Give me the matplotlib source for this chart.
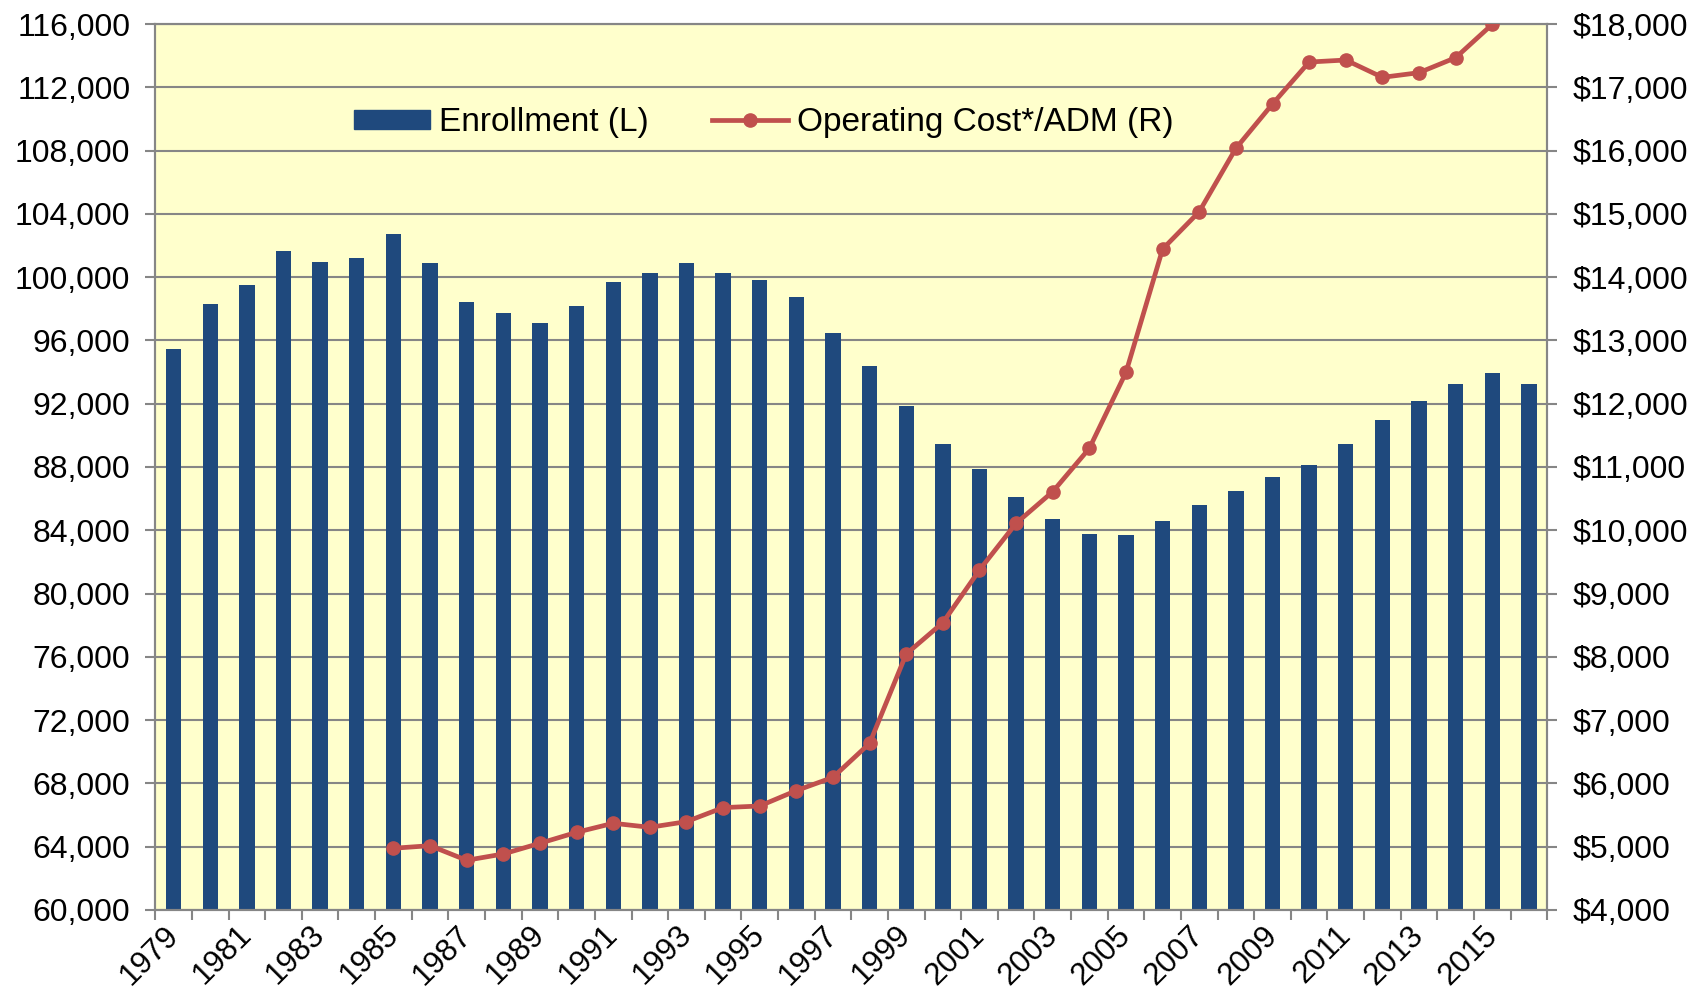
import matplotlib.pyplot as plt
from matplotlib.ticker import FuncFormatter, FixedLocator
from matplotlib.patches import Patch
from matplotlib.lines import Line2D

plt.rcParams['font.family'] = ['Liberation Sans', 'DejaVu Sans']

# enrollment by year (left axis)
years = [1979, 1980, 1981, 1982, 1983, 1984, 1985, 1986, 1987, 1988,
         1989, 1990, 1991, 1992, 1993, 1994, 1995, 1996, 1997, 1998,
         1999, 2000, 2001, 2002, 2003, 2004, 2005, 2006, 2007, 2008,
         2009, 2010, 2011, 2012, 2013, 2014, 2015, 2016]
enrollment = [95440, 98280, 99500, 101630, 100940, 101230, 102750, 100910, 98430, 97750,
              97120, 98200, 99690, 100280, 100870, 100280, 99820, 98770, 96470, 94380,
              91860, 89470, 87850, 86120, 84690, 83770, 83680, 84590, 85580, 86480,
              87390, 88150, 89450, 90970, 92170, 93270, 93960, 93230]

# operating cost per ADM (right axis)
cost_years = [1985, 1986, 1987, 1988, 1989, 1990, 1991, 1992, 1993, 1994,
              1995, 1996, 1997, 1998, 1999, 2000, 2001, 2002, 2003, 2004,
              2005, 2006, 2007, 2008, 2009, 2010, 2011, 2012, 2013, 2014, 2015]
cost = [4975, 5016, 4785, 4885, 5054, 5227, 5370, 5306, 5396, 5617,
        5643, 5886, 6096, 6633, 8045, 8540, 9372, 10110, 10610, 11295,
        12496, 14444, 15034, 16035, 16736, 17399, 17431, 17157, 17231, 17468, 17995]

label_years = years[::2]

blue = '#1F497D'
red = '#C0504D'
grid_gray = '#868686'

fig = plt.figure(figsize=(17.07, 9.92), dpi=100)
ax = fig.add_axes([0.0910, 0.0827, 0.8154, 0.8931])
ax.set_facecolor('#FFFFCC')

x = list(range(len(years)))
ax.bar(x, enrollment, width=0.42, color=blue, zorder=2)
ax.set_xlim(-0.5, len(years) - 0.5)
ax.set_ylim(60000, 116000)
ax.set_yticks(range(60000, 116001, 4000))
ax.yaxis.set_major_formatter(FuncFormatter(lambda v, p: f'{v:,.0f}'))
ax.grid(axis='y', color=grid_gray, linewidth=1.5, zorder=0)
ax.set_axisbelow(True)

# year labels on every other category (nudged a little right, as Excel does),
# tick marks between categories
ax.set_xticks([years.index(y) + 0.16 for y in label_years])
ax.set_xticklabels([str(y) for y in label_years], rotation=45, ha='right',
                   va='baseline', rotation_mode='anchor', fontsize=22.5)
ax.xaxis.set_minor_locator(FixedLocator([i - 0.5 for i in range(len(years) + 1)]))
ax.tick_params(axis='x', which='major', length=0, pad=19)
ax.tick_params(axis='x', which='minor', length=7, width=1.5, color=grid_gray)
ax.tick_params(axis='y', length=7, width=1.5, color=grid_gray, labelsize=23, pad=11)

for s in ax.spines.values():
    s.set_color(grid_gray)
    s.set_linewidth(1.5)

ax2 = ax.twinx()
cx = [years.index(y) for y in cost_years]
ax2.plot(cx, cost, color=red, linewidth=3.4, marker='o', markersize=9.5, zorder=3)
ax2.set_ylim(4000, 18000)
ax2.set_yticks(range(4000, 18001, 1000))
ax2.yaxis.set_major_formatter(FuncFormatter(lambda v, p: f'${v:,.0f}'))
ax2.tick_params(axis='y', length=7, width=1.5, color=grid_gray, labelsize=23, pad=11)
for s in ax2.spines.values():
    s.set_color(grid_gray)
    s.set_linewidth(1.5)

handles = [Patch(color=blue),
           Line2D([], [], color=red, linewidth=3.4, marker='o', markersize=9.5)]
ax2.legend(handles, ['Enrollment (L)', 'Operating Cost*/ADM (R)'],
           loc='center', bbox_to_anchor=(0.437, 0.889), ncol=2, frameon=False,
           fontsize=24, handlelength=2.3, handleheight=0.5, handletextpad=0.25,
           columnspacing=1.9)

fig.savefig('out.png', dpi=100)
